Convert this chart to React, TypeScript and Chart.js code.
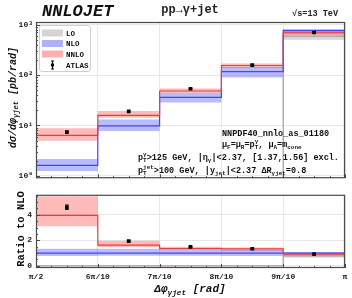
import React, { useEffect, useRef } from 'react';
import { Chart, registerables } from 'chart.js';

Chart.register(...registerables);

// ---------------- data ----------------
const binEdges = [5, 6, 7, 8, 9, 10]; // Δφ in units of π/10
const binCentres = [5.5, 6.5, 7.5, 8.5, 9.5];
const xTickLabels = ['π/2', '6π/10', '7π/10', '8π/10', '9π/10', 'π'];

const loCentral = [0, 0, 0, 0, 590];
const loLow = [0, 0, 0, 0, 500];
const loHigh = [0, 0, 0, 0, 640];

const nloCentral = [1.61, 9.8, 36, 117, 760];
const nloLow = [1.25, 7.8, 28.7, 90, 680];
const nloHigh = [2.16, 13.1, 44.8, 145, 820];

const nnloCentral = [6.36, 15.9, 48.3, 155, 690];
const nnloLow = [5.0, 14.3, 44.8, 138, 610];
const nnloHigh = [8.8, 19.3, 54, 169, 730];

const atlasValues = [7.4, 19.0, 53.5, 157, 700];
const atlasErrors = [0.28, 0.5, 1.2, 3.5, 14];

const mainTickValues = [1, 10, 100, 1000];
const mainTickLabels = ['10⁰', '10¹', '10²', '10³'];
const ratioTickValues = [0, 2, 4];
const ratioTickLabels = ['0', '2', '4'];

const legendLabels = ['LO', 'NLO', 'NNLO', 'ATLAS'];

// ---------------- styles ----------------
const MONO = "'Liberation Mono', 'DejaVu Sans Mono', monospace";
const GRID = '#e8e8e8';
const FRAME = '#4a4a4a';
const COL: Record<string, { line: string; band: string; patch: string }> = {
  lo: { line: 'rgb(160,160,160)', band: 'rgba(140,140,140,0.35)', patch: 'rgb(212,212,212)' },
  nlo: { line: 'rgb(70,70,240)', band: 'rgba(40,40,255,0.32)', patch: 'rgb(175,175,250)' },
  nnlo: { line: 'rgb(235,60,60)', band: 'rgba(255,40,40,0.32)', patch: 'rgb(252,175,175)' },
};

type Seg = { t?: string; sub?: string; sup?: string };

function richWidth(ctx: CanvasRenderingContext2D, segs: Seg[], size: number, style: string) {
  let w = 0;
  for (const s of segs) {
    if (s.t) {
      ctx.font = `${style} ${size}px ${MONO}`;
      w += ctx.measureText(s.t).width;
    }
    if (s.sub || s.sup) {
      ctx.font = `${style} ${size * 0.7}px ${MONO}`;
      const a = s.sub ? ctx.measureText(s.sub).width : 0;
      const b = s.sup ? ctx.measureText(s.sup).width : 0;
      w += Math.max(a, b);
    }
  }
  return w;
}

function drawRich(
  ctx: CanvasRenderingContext2D,
  segs: Seg[],
  x: number,
  y: number,
  size: number,
  align: 'left' | 'center' | 'right',
  style = 'bold',
  color = '#111'
) {
  const w = richWidth(ctx, segs, size, style);
  let cx = align === 'left' ? x : align === 'center' ? x - w / 2 : x - w;
  ctx.fillStyle = color;
  ctx.textAlign = 'left';
  ctx.textBaseline = 'alphabetic';
  for (const s of segs) {
    if (s.t) {
      ctx.font = `${style} ${size}px ${MONO}`;
      ctx.fillText(s.t, cx, y);
      cx += ctx.measureText(s.t).width;
    }
    if (s.sub || s.sup) {
      ctx.font = `${style} ${size * 0.7}px ${MONO}`;
      let m = 0;
      if (s.sub) {
        ctx.fillText(s.sub, cx, y + size * 0.28);
        m = Math.max(m, ctx.measureText(s.sub).width);
      }
      if (s.sup) {
        ctx.fillText(s.sup, cx, y - size * 0.42);
        m = Math.max(m, ctx.measureText(s.sup).width);
      }
      cx += m;
    }
  }
}

const stepPts = (vals: number[], f: (v: number, i: number) => number) =>
  binEdges.map((x, i) => {
    const j = Math.min(i, vals.length - 1);
    return { x, y: f(vals[j], j) };
  });

function buildDatasets(f: (v: number, i: number) => number) {
  const series = [
    { key: 'lo', c: loCentral, l: loLow, h: loHigh, o: 30, lo: 5 },
    { key: 'nlo', c: nloCentral, l: nloLow, h: nloHigh, o: 20, lo: 4 },
    { key: 'nnlo', c: nnloCentral, l: nnloLow, h: nnloHigh, o: 10, lo: 3 },
  ];
  const ds: any[] = [];
  for (const s of series) {
    ds.push({
      data: stepPts(s.l, f), borderColor: 'transparent', borderWidth: 0, pointRadius: 0,
      stepped: true, fill: false, order: s.o + 2,
    });
    ds.push({
      data: stepPts(s.h, f), borderColor: 'transparent', borderWidth: 0, pointRadius: 0,
      stepped: true, fill: '-1', backgroundColor: COL[s.key].band, order: s.o + 1,
    });
  }
  for (const s of series) {
    ds.push({
      data: stepPts(s.c, f), borderColor: COL[s.key].line, borderWidth: 1.2, pointRadius: 0,
      stepped: true, fill: false, order: s.lo,
    });
  }
  ds.push({
    data: binCentres.map((x, i) => ({ x, y: f(atlasValues[i], i) })),
    errors: atlasErrors.map((e, i) => ({
      lo: f(atlasValues[i] - e, i),
      hi: f(atlasValues[i] + e, i),
    })),
    showLine: false, pointStyle: 'rect', pointRadius: 2.6,
    backgroundColor: '#000', borderColor: '#000', borderWidth: 0, order: 0,
  });
  return ds;
}

function makeDecor(o: {
  yMajor: number[];
  yMinor: number[];
  xMinor: number[];
  draw: (ctx: CanvasRenderingContext2D, chart: any) => void;
}) {
  return {
    id: 'decor',
    afterDatasetsDraw(chart: any) {
      const { ctx, chartArea: a, scales } = chart;
      ctx.save();
      ctx.beginPath();
      ctx.rect(a.left, a.top, a.right - a.left, a.bottom - a.top);
      ctx.clip();
      ctx.strokeStyle = '#000';
      ctx.lineWidth = 1;
      chart.data.datasets.forEach((ds: any) => {
        if (!ds.errors) return;
        ds.data.forEach((p: any, i: number) => {
          const x = scales.x.getPixelForValue(p.x);
          const y1 = scales.y.getPixelForValue(ds.errors[i].lo);
          const y2 = scales.y.getPixelForValue(ds.errors[i].hi);
          ctx.beginPath();
          ctx.moveTo(x, y1);
          ctx.lineTo(x, y2);
          ctx.moveTo(x - 1.8, y1);
          ctx.lineTo(x + 1.8, y1);
          ctx.moveTo(x - 1.8, y2);
          ctx.lineTo(x + 1.8, y2);
          ctx.stroke();
        });
      });
      ctx.restore();
    },
    afterDraw(chart: any) {
      const { ctx, chartArea: a, scales } = chart;
      ctx.save();
      ctx.strokeStyle = FRAME;
      ctx.lineWidth = 1;
      ctx.beginPath();
      for (const v of binEdges) {
        const x = Math.round(scales.x.getPixelForValue(v)) + 0.5;
        ctx.moveTo(x, a.bottom);
        ctx.lineTo(x, a.bottom - 4);
      }
      for (const v of o.xMinor) {
        const x = Math.round(scales.x.getPixelForValue(v)) + 0.5;
        ctx.moveTo(x, a.bottom);
        ctx.lineTo(x, a.bottom - 2);
      }
      for (const v of o.yMajor) {
        const y = Math.round(scales.y.getPixelForValue(v)) + 0.5;
        if (y < a.top || y > a.bottom) continue;
        ctx.moveTo(a.left, y);
        ctx.lineTo(a.left + 4, y);
      }
      for (const v of o.yMinor) {
        const y = Math.round(scales.y.getPixelForValue(v)) + 0.5;
        if (y < a.top || y > a.bottom) continue;
        ctx.moveTo(a.left, y);
        ctx.lineTo(a.left + 2, y);
      }
      ctx.stroke();
      ctx.lineWidth = 1.2;
      ctx.strokeRect(a.left + 0.5, a.top + 0.5, a.right - a.left - 1, a.bottom - a.top - 1);
      o.draw(ctx, chart);
      ctx.restore();
    },
  };
}

const xMinorValues: number[] = [];
for (let b = 5; b < 10; b++) for (let k = 1; k < 4; k++) xMinorValues.push(b + k * 0.25);
const logMinor: number[] = [];
for (let d = -1; d <= 3; d++) for (let m = 2; m <= 9; m++) logMinor.push(m * Math.pow(10, d));
const ratioMinor = [0.5, 1, 1.5, 2.5, 3, 3.5, 4.5, 5, 5.5];

const tickFont = { family: MONO, size: 8, weight: 'bold' as const };

function topConfig(): any {
  return {
    type: 'line',
    data: { datasets: buildDatasets((v) => (v > 0 ? v : 1e-6)) },
    options: {
      animation: false,
      responsive: false,
      events: [],
      layout: { padding: { left: 0, right: 7, top: 22, bottom: 3 } },
      plugins: { legend: { display: false }, tooltip: { enabled: false } },
      scales: {
        x: {
          type: 'linear', min: 5, max: 10,
          afterBuildTicks: (s: any) => { s.ticks = binEdges.map((v) => ({ value: v })); },
          ticks: { display: false },
          grid: { color: GRID, drawTicks: false },
          border: { display: false },
          afterFit: (s: any) => { s.height = 0; },
        },
        y: {
          type: 'logarithmic', min: 0.9, max: 1130,
          afterBuildTicks: (s: any) => { s.ticks = mainTickValues.map((v) => ({ value: v })); },
          ticks: {
            font: tickFont, color: '#222', padding: 3,
            callback: (v: number) => mainTickLabels[mainTickValues.indexOf(v)] ?? '',
          },
          grid: { color: GRID, drawTicks: false },
          border: { display: false },
          afterFit: (s: any) => { s.width = 36; },
        },
      },
    },
    plugins: [
      makeDecor({
        yMajor: mainTickValues, yMinor: logMinor, xMinor: xMinorValues,
        draw: (ctx) => {
          // header
          drawRich(ctx, [{ t: 'NNLOJET' }], 42, 15.5, 17, 'left', 'bold italic', '#111');
          drawRich(ctx, [{ t: 'pp→γ+jet' }], 190, 13, 12, 'center', 'bold', '#222');
          drawRich(ctx, [{ t: '√s=13 TeV' }], 338, 16, 8.5, 'right', 'bold', '#222');
          // y title
          ctx.save();
          ctx.translate(12, 97.5);
          ctx.rotate(-Math.PI / 2);
          drawRich(ctx, [{ t: 'dσ/dφ', sub: 'γjet' }, { t: ' [pb/rad]' }], 0, 3.5, 10, 'center', 'bold italic', '#111');
          ctx.restore();
          // legend
          ctx.fillStyle = 'rgba(255,255,255,0.85)';
          ctx.strokeStyle = '#d0d0d0';
          ctx.lineWidth = 1;
          ctx.beginPath();
          (ctx as any).roundRect(39.5, 25.5, 51, 46, 2.5);
          ctx.fill();
          ctx.stroke();
          const ys = [33, 43.5, 54, 65];
          const patches = [COL.lo.patch, COL.nlo.patch, COL.nnlo.patch];
          for (let i = 0; i < 4; i++) {
            if (i < 3) {
              ctx.fillStyle = patches[i];
              ctx.fillRect(42, ys[i] - 3.5, 21, 7);
            } else {
              ctx.strokeStyle = '#000';
              ctx.beginPath();
              ctx.moveTo(52.5, ys[i] - 4);
              ctx.lineTo(52.5, ys[i] + 4);
              ctx.moveTo(51, ys[i] - 4);
              ctx.lineTo(54, ys[i] - 4);
              ctx.moveTo(51, ys[i] + 4);
              ctx.lineTo(54, ys[i] + 4);
              ctx.stroke();
              ctx.fillStyle = '#000';
              ctx.fillRect(51, ys[i] - 1.5, 3, 3);
            }
            drawRich(ctx, [{ t: legendLabels[i] }], 66, ys[i] + 2.6, 7.5, 'left', 'bold', '#111');
          }
          // annotations
          drawRich(ctx, [{ t: 'NNPDF40_nnlo_as_01180' }], 222, 136, 8.5, 'left');
          drawRich(
            ctx,
            [{ t: 'μ', sub: 'F' }, { t: '=μ', sub: 'R' }, { t: '=p', sub: 'T', sup: 'γ' }, { t: ', μ', sub: 'A' }, { t: '=m', sub: 'cone' }],
            222, 146.5, 8.5, 'left'
          );
          drawRich(
            ctx,
            [{ t: 'p', sub: 'T', sup: 'γ' }, { t: '>125 GeV, |η', sub: 'γ' }, { t: '|<2.37, [1.37,1.56] excl.' }],
            138, 160, 8.5, 'left'
          );
          drawRich(
            ctx,
            [{ t: 'p', sub: 'T', sup: 'jet' }, { t: '>100 GeV, |y', sub: 'jet' }, { t: '|<2.37 ΔR', sub: 'γjet' }, { t: '=0.8' }],
            138, 173, 8.5, 'left'
          );
        },
      }),
    ],
  };
}

function bottomConfig(): any {
  return {
    type: 'line',
    data: { datasets: buildDatasets((v, i) => v / nloCentral[i]) },
    options: {
      animation: false,
      responsive: false,
      events: [],
      layout: { padding: { left: 0, right: 7, top: 3, bottom: 0 } },
      plugins: { legend: { display: false }, tooltip: { enabled: false } },
      scales: {
        x: {
          type: 'linear', min: 5, max: 10,
          afterBuildTicks: (s: any) => { s.ticks = binEdges.map((v) => ({ value: v })); },
          ticks: {
            font: tickFont, color: '#222', padding: 4, maxRotation: 0, autoSkip: false,
            callback: (v: number) => xTickLabels[binEdges.indexOf(v)] ?? '',
          },
          grid: { color: GRID, drawTicks: false },
          border: { display: false },
          afterFit: (s: any) => { s.height = 30; },
        },
        y: {
          type: 'linear', min: -0.17, max: 5.57,
          afterBuildTicks: (s: any) => { s.ticks = ratioTickValues.map((v) => ({ value: v })); },
          ticks: {
            font: tickFont, color: '#222', padding: 4,
            callback: (v: number) => ratioTickLabels[ratioTickValues.indexOf(v)] ?? '',
          },
          grid: { color: GRID, drawTicks: false },
          border: { display: false },
          afterFit: (s: any) => { s.width = 36; },
        },
      },
    },
    plugins: [
      makeDecor({
        yMajor: ratioTickValues, yMinor: ratioMinor, xMinor: xMinorValues,
        draw: (ctx) => {
          ctx.save();
          ctx.translate(20, 43);
          ctx.rotate(-Math.PI / 2);
          drawRich(ctx, [{ t: 'Ratio to NLO' }], 0, 3.5, 10.5, 'center', 'bold', '#111');
          ctx.restore();
          drawRich(ctx, [{ t: 'Δφ', sub: 'γjet' }, { t: ' [rad]' }], 190, 106, 11, 'center', 'bold italic', '#111');
        },
      }),
    ],
  };
}

export default function App() {
  const topRef = useRef<HTMLCanvasElement>(null);
  const botRef = useRef<HTMLCanvasElement>(null);
  useEffect(() => {
    document.body.style.margin = '0';
    const c1 = new Chart(topRef.current as HTMLCanvasElement, topConfig());
    const c2 = new Chart(botRef.current as HTMLCanvasElement, bottomConfig());
    return () => {
      c1.destroy();
      c2.destroy();
    };
  }, []);
  return (
    <div style={{ position: 'relative', width: 352, height: 298, background: '#fff' }}>
      <canvas ref={topRef} width={352} height={186} style={{ position: 'absolute', left: 0, top: 0, width: 352, height: 186 }} />
      <canvas ref={botRef} width={352} height={112} style={{ position: 'absolute', left: 0, top: 186, width: 352, height: 112 }} />
    </div>
  );
}
